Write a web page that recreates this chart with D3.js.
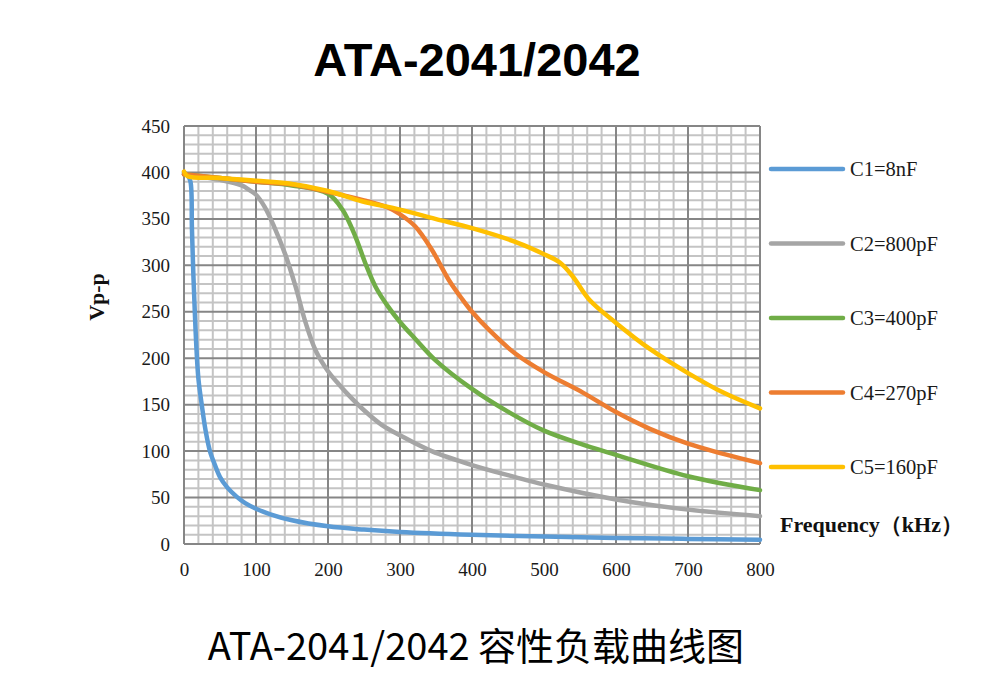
<!DOCTYPE html>
<html>
<head>
<meta charset="utf-8">
<script src="https://cdn.jsdelivr.net/npm/d3@7"></script>
<style>
  html, body { margin: 0; padding: 0; background: #fff; }
  svg { display: block; }
</style>
</head>
<body>
<script>
// ---- Data ----
const title = "ATA-2041/2042";
const caption = "ATA-2041/2042 容性负载曲线图";
const xLabel = "Frequency（kHz）";
const yLabel = "Vp-p";
const xTicks = [0, 100, 200, 300, 400, 500, 600, 700, 800];
const yTicks = [0, 50, 100, 150, 200, 250, 300, 350, 400, 450];
const seriesNames = ["C1=8nF", "C2=800pF", "C3=400pF", "C4=270pF", "C5=160pF"];
const seriesColors = ["#5B9BD5", "#A5A5A5", "#70AD47", "#ED7D31", "#FFC000"];

const c1Freq = [0, 5, 9, 11, 13, 15, 17, 20, 25, 30, 36, 43, 50, 60, 73, 85, 100, 120, 150, 200, 250, 300, 400, 500, 600, 700, 800];
const c1Vpp  = [400, 397, 390, 340, 290, 250, 215, 178, 148, 122, 100, 85, 72, 61, 51, 44, 38, 32, 25.5, 19, 15.5, 13, 10, 8, 6.5, 5.5, 4.5];

const c2Freq = [0, 20, 50, 80, 91, 100, 112, 125, 141, 155, 169, 183, 200, 215, 229, 250, 275, 300, 344, 400, 460, 500, 600, 700, 800];
const c2Vpp  = [398, 396, 392, 386, 381, 376, 363, 342, 311, 277, 238, 208, 186, 172, 160, 144, 128, 117, 100, 85, 72, 64, 48, 37, 30];

const c3Freq = [0, 50, 100, 150, 200, 220, 238, 252, 266, 284, 300, 321, 349, 400, 451, 500, 550, 600, 700, 800];
const c3Vpp  = [398, 394, 390, 386, 377, 360, 331, 302, 277, 255, 239, 221, 198, 167, 142, 122, 108, 96, 73, 58];

const c4Freq = [0, 50, 100, 150, 200, 250, 284, 300, 321, 344, 368, 386, 400, 423, 460, 500, 554, 600, 647, 700, 749, 800];
const c4Vpp  = [398, 394, 390, 387, 379, 370, 362, 355, 342, 317, 284, 264, 250, 231, 205, 185, 163, 142, 124, 108, 97, 87];

const c5Freq = [0, 5, 50, 100, 146, 200, 247, 300, 349, 400, 461, 500, 522, 540, 563, 600, 647, 700, 749, 800];
const c5Vpp  = [401, 396, 394, 391, 388, 380, 369, 360, 350, 340, 325, 312, 303, 288, 263, 238, 210, 184, 163, 146];

const seriesFreq = [c1Freq, c2Freq, c3Freq, c4Freq, c5Freq];
const seriesVpp = [c1Vpp, c2Vpp, c3Vpp, c4Vpp, c5Vpp];

// ---- Layout ----
const W = 1004, H = 689;
const plot = { left: 184, right: 760, top: 126, bottom: 544 };

const svg = d3.select("body").append("svg").attr("width", W).attr("height", H);

const x = d3.scaleLinear().domain([0, 800]).range([plot.left, plot.right]);
const y = d3.scaleLinear().domain([0, 450]).range([plot.bottom, plot.top]);

// Minor grid
const minorX = d3.range(0, 801, 20).filter(v => v % 100 !== 0);
const minorY = d3.range(0, 451, 10).filter(v => v % 50 !== 0);
const grid = svg.append("g");
grid.selectAll("line.mx").data(minorX).join("line")
  .attr("x1", d => x(d)).attr("x2", d => x(d))
  .attr("y1", plot.top).attr("y2", plot.bottom)
  .attr("stroke", "#c4c4c4").attr("stroke-width", 2);
grid.selectAll("line.my").data(minorY).join("line")
  .attr("y1", d => y(d)).attr("y2", d => y(d))
  .attr("x1", plot.left).attr("x2", plot.right)
  .attr("stroke", "#c4c4c4").attr("stroke-width", 2);
// Major grid
grid.selectAll("line.MX").data(xTicks).join("line")
  .attr("x1", d => x(d)).attr("x2", d => x(d))
  .attr("y1", plot.top).attr("y2", plot.bottom)
  .attr("stroke", "#868686").attr("stroke-width", 2);
grid.selectAll("line.MY").data(yTicks).join("line")
  .attr("y1", d => y(d)).attr("y2", d => y(d))
  .attr("x1", plot.left).attr("x2", plot.right)
  .attr("stroke", "#868686").attr("stroke-width", 2);

// Axes labels (ticks)
const serif = "'Liberation Serif', 'Times New Roman', serif";
const yAxis = d3.axisLeft(y).tickValues(yTicks).tickSize(0).tickPadding(14);
const gy = svg.append("g").attr("transform", `translate(${plot.left},0)`).call(yAxis);
gy.select(".domain").remove();
gy.selectAll("text").attr("font-family", serif).attr("font-size", 19).attr("fill", "#1a1a1a");

const xAxis = d3.axisBottom(x).tickValues(xTicks).tickSize(0).tickPadding(19);
const gx = svg.append("g").attr("transform", `translate(0,${plot.bottom})`).call(xAxis);
gx.select(".domain").remove();
gx.selectAll("text").attr("font-family", serif).attr("font-size", 19).attr("fill", "#1a1a1a");

// Series lines
const line = d3.line().x(d => x(d[0])).y(d => y(d[1])).curve(d3.curveCatmullRom.alpha(0.5));
seriesFreq.forEach((fs, i) => {
  const pts = fs.map((f, j) => [f, seriesVpp[i][j]]);
  svg.append("path").datum(pts)
    .attr("d", line)
    .attr("fill", "none")
    .attr("stroke", seriesColors[i])
    .attr("stroke-width", 4.5)
    .attr("stroke-linejoin", "round")
    .attr("stroke-linecap", "round");
});

// Legend
const legY0 = 169, legStep = 74.5;
const leg = svg.append("g");
seriesNames.forEach((n, i) => {
  const ly = legY0 + i * legStep;
  leg.append("line").attr("x1", 771).attr("x2", 843).attr("y1", ly).attr("y2", ly)
    .attr("stroke", seriesColors[i]).attr("stroke-width", 4.5).attr("stroke-linecap", "round");
  leg.append("text").attr("x", 850).attr("y", ly).attr("dy", "0.35em")
    .attr("font-family", serif).attr("font-size", 20.5).attr("fill", "#1a1a1a").text(n);
});

// Axis titles
svg.append("text").attr("transform", "translate(104,297) rotate(-90)")
  .attr("text-anchor", "middle").attr("font-family", serif).attr("font-weight", "bold")
  .attr("font-size", 22).attr("fill", "#111").text(yLabel);
svg.append("text").attr("x", 780).attr("y", 532)
  .attr("font-family", serif).attr("font-weight", "bold")
  .attr("font-size", 22).attr("fill", "#111").text(xLabel);

// Title & caption
svg.append("text").attr("x", 477).attr("y", 76).attr("text-anchor", "middle")
  .attr("font-family", "'Liberation Sans', Arial, sans-serif").attr("font-weight", "bold")
  .attr("font-size", 47).attr("fill", "#000").text(title);
svg.append("text").attr("x", 476).attr("y", 660).attr("text-anchor", "middle")
  .attr("font-family", "'Noto Sans CJK SC', sans-serif")
  .attr("font-size", 38).attr("fill", "#000").text(caption);
</script>
</body>
</html>
